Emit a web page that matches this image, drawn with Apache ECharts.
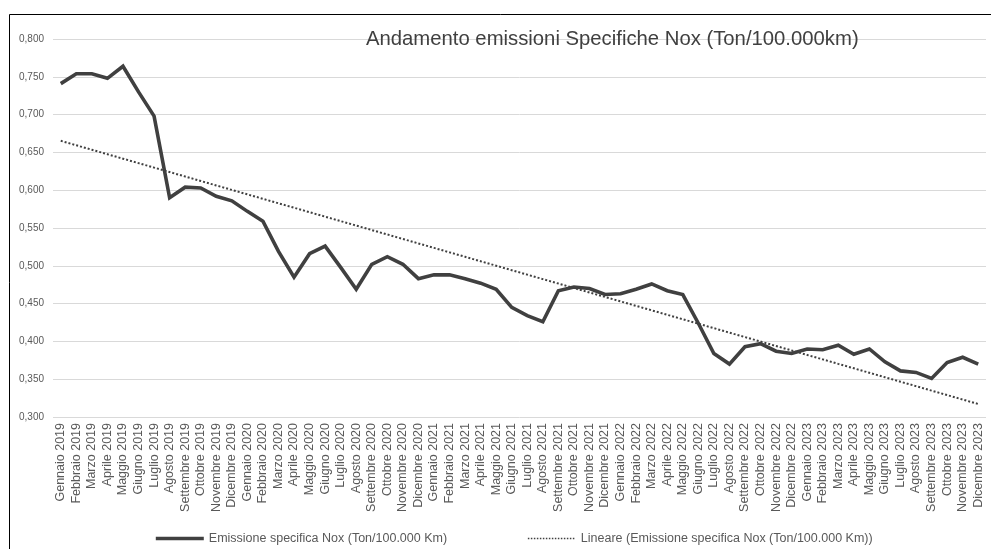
<!DOCTYPE html>
<html>
<head>
<meta charset="utf-8">
<script src="https://cdn.jsdelivr.net/npm/echarts@6/dist/echarts.min.js"></script>
<style>
html,body{margin:0;padding:0;background:#fff;}
#chart{width:991px;height:549px;}
</style>
</head>
<body>
<div id="chart"></div>
<script>
const months = ["Gennaio","Febbraio","Marzo","Aprile","Maggio","Giugno","Luglio","Agosto","Settembre","Ottobre","Novembre","Dicembre"];
const years = [2019, 2020, 2021, 2022, 2023];
const categories = [];
years.forEach(y => months.forEach(m => categories.push(m + " " + y)));

const seriesName = "Emissione specifica Nox (Ton/100.000 Km)";
const trendName = "Lineare (Emissione specifica Nox (Ton/100.000 Km))";
const titleText = "Andamento emissioni Specifiche Nox (Ton/100.000km)";

const values = [
  0.741, 0.754, 0.754, 0.748, 0.764, 0.730, 0.698, 0.590, 0.604, 0.603, 0.592, 0.586,
  0.572, 0.559, 0.519, 0.485, 0.516, 0.526, 0.498, 0.469, 0.502, 0.512, 0.502, 0.483,
  0.488, 0.488, 0.483, 0.477, 0.469, 0.445, 0.434, 0.426, 0.467, 0.472, 0.470, 0.462,
  0.463, 0.469, 0.476, 0.467, 0.462, 0.424, 0.384, 0.370, 0.393, 0.397, 0.387, 0.384,
  0.390, 0.389, 0.395, 0.383, 0.390, 0.373, 0.361, 0.359, 0.351, 0.372, 0.379, 0.370
];

const yMin = 0.3, yMax = 0.8, yStep = 0.05;

// Linear trend (least squares) computed from the data, as in the original chart
const n = values.length;
let sx = 0, sy = 0, sxx = 0, sxy = 0;
values.forEach((v, i) => { sx += i; sy += v; sxx += i * i; sxy += i * v; });
const slope = (n * sxy - sx * sy) / (n * sxx - sx * sx);
const intercept = (sy - slope * sx) / n;
const trend = values.map((v, i) => +(intercept + slope * i).toFixed(4));

const chart = echarts.init(document.getElementById('chart'), null, {renderer: 'canvas'});
const font = 'Liberation Sans, Arial, sans-serif';
chart.setOption({
  backgroundColor: '#fff',
  animation: false,
  textStyle: {fontFamily: font},
  title: {
    text: titleText,
    left: 361, top: 24,
    textStyle: {fontFamily: font, fontSize: 20.3, fontWeight: 'normal', color: '#404040'}
  },
  graphic: [{
    type: 'rect', left: 7, top: 12, z: -1,
    shape: {width: 1200, height: 800},
    style: {fill: 'none', stroke: '#000', lineWidth: 1}
  }],
  legend: {
    left: 149, top: 527, itemWidth: 48, itemHeight: 14, itemGap: 80,
    data: [
      {name: seriesName, itemStyle: {opacity: 0}, lineStyle: {width: 3.6, color: '#404040'}},
      {name: trendName, itemStyle: {opacity: 0}, lineStyle: {width: 1.5, color: '#404040', type: [1.5, 1.5]}}
    ],
    textStyle: {fontFamily: font, fontSize: 12.5, color: '#595959'}
  },
  grid: {left: 53, right: 5, top: 39, bottom: 132, containLabel: false},
  xAxis: {
    type: 'category',
    data: categories,
    boundaryGap: true,
    axisLine: {show: false},
    axisTick: {show: false},
    axisLabel: {interval: 0, rotate: 90, fontSize: 12.5, color: '#595959', margin: 6, fontFamily: font}
  },
  yAxis: {
    type: 'value',
    min: yMin, max: yMax, interval: yStep,
    axisLine: {show: false},
    axisTick: {show: false},
    splitLine: {lineStyle: {color: '#d9d9d9', width: 1}},
    axisLabel: {
      fontSize: 10, color: '#595959', margin: 9, fontFamily: font,
      formatter: v => v.toFixed(3).replace('.', ',')
    }
  },
  series: [{
    name: seriesName,
    type: 'line',
    data: values,
    symbol: 'none',
    smooth: false,
    lineStyle: {color: '#404040', width: 3.6, join: 'miter'},
    itemStyle: {color: '#404040'},
    z: 3
  }, {
    name: trendName,
    type: 'line',
    data: trend,
    symbol: 'none',
    lineStyle: {color: '#404040', width: 2, type: [2, 2]},
    itemStyle: {color: '#404040'},
    z: 2
  }]
});
</script>
</body>
</html>
